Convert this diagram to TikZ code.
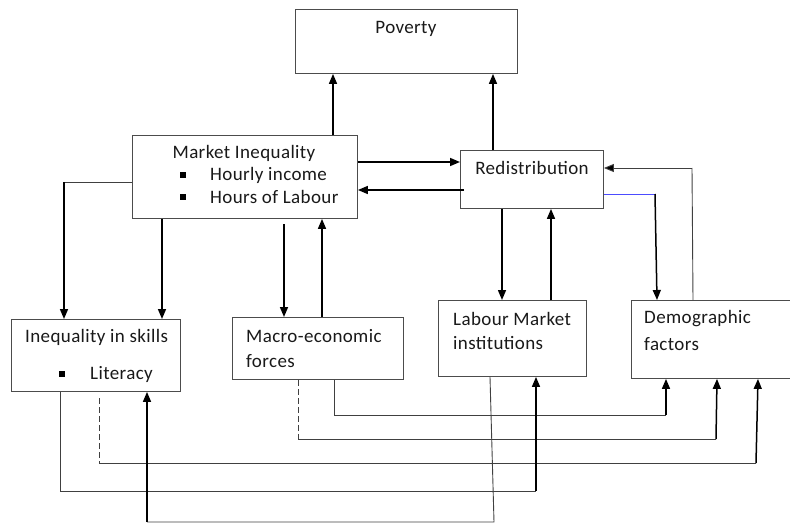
\documentclass[tikz,border=0pt]{standalone}
\usepackage{fontspec}
\setmainfont[LetterSpace=2]{Carlito}
\usetikzlibrary{arrows.meta}
\begin{document}
\begin{tikzpicture}[x=1pt,y=-1pt,
  box/.style={draw=black!70,line width=0.9pt,inner sep=0pt,anchor=north west},
  lbl/.style={inner sep=0pt,font=\fontsize{19}{22}\selectfont,text=black!90},
  lblw/.style={lbl,anchor=west},
  bul/.style={inner sep=0pt,fill=black,minimum size=5.5pt},
  arr/.style={line width=1.5pt,-{Triangle[length=10pt,width=8pt]}},
  thin/.style={draw=black!75,line width=0.9pt},
  thinarr/.style={draw=black!75,line width=0.9pt,-{Triangle[length=10pt,width=8pt,fill=black]}}]
\useasboundingbox (0,0) rectangle (790,527);

% boxes
\node[box,minimum width=222pt,minimum height=64pt] (pov) at (295,9) {};
\node[box,minimum width=225pt,minimum height=83pt] (mi) at (132,135) {};
\node[box,minimum width=143pt,minimum height=58pt] (red) at (460,150) {};
\node[box,minimum width=169pt,minimum height=72pt] (ineq) at (11,319) {};
\node[box,minimum width=171pt,minimum height=62pt] (macro) at (232,317) {};
\node[box,minimum width=148pt,minimum height=76pt] (lmi) at (438,300) {};
\node[box,minimum width=170pt,minimum height=78pt] (demo) at (631,300) {};

% labels
\node[lbl] (tpov) at (406,29) {Poverty};
\node[lbl] (tmi) at (244,153) {Market Inequality};
\node[bul] (b1) at (183,175) {};
\node[bul] (b2) at (183,197) {};
\node[lblw] (tmi1) at (210,175) {Hourly income};
\node[lblw] (tmi2) at (210,197) {Hours of Labour};
\node[lbl] (tred) at (532,168) {Redistribution};
\node[lblw] (tin) at (25,337) {Inequality in skills};
\node[bul] (b3) at (62,374) {};
\node[lblw] (tin1) at (90,374) {Literacy};
\node[lblw] (tma1) at (246,336) {Macro-economic};
\node[lblw] (tma2) at (246,361) {forces};
\node[lblw] (tlm1) at (453,319) {Labour Market};
\node[lblw] (tlm2) at (453,343) {institutions};
\node[lblw] (tde1) at (644,319) {Demographic};
\node[lblw] (tde2) at (644,344) {factors};

% upward links to Poverty
\draw[arr] (mi.north -| 333,0) -- (pov.south -| 333,0);
\draw[arr] (red.north -| 493,0) -- (pov.south -| 493,0);

% Market Inequality <-> Redistribution
\draw[arr] (mi.east |- 0,162) -- (red.west |- 0,162);
\draw[arr] (464,190) -- (mi.east |- 0,190);

% Market Inequality -> Inequality in skills
\draw[thin] (mi.west |- 0,182) -- (64,182);
\draw[arr] (64,182) -- (ineq.north -| 64,0);
\draw[arr] (mi.south -| 162,0) -- (ineq.north -| 162,0);

% Market Inequality <-> Macro-economic forces
\draw[arr] (284,224) -- (macro.north -| 284,0);
\draw[arr] (macro.north -| 322,0) -- (mi.south -| 322,0);

% Redistribution <-> Labour Market institutions
\draw[arr] (red.south -| 502,0) -- (lmi.north -| 502,0);
\draw[arr] (lmi.north -| 551,0) -- (red.south -| 551,0);

% Redistribution <-> Demographic factors
\draw[draw=blue!70!white,line width=0.7pt] (red.east |- 0,194) -- (655,194);
\draw[arr] (655,194) -- (demo.north -| 657,0);
\draw[thin] (demo.north -| 693,0) -- (692,168);
\draw[thinarr] (692,168) -- (red.east |- 0,168);

% lower feedback lines
\draw[thin] (macro.south -| 334,0) -- (334,415) -- (666,415);
\draw[arr] (666,415) -- (demo.south -| 666,0);
\draw[thin,dash pattern=on 6pt off 3pt] (macro.south -| 298,0) -- (298,439);
\draw[thin] (298,439) -- (716,439);
\draw[arr] (716,439) -- (demo.south -| 717,0);
\draw[thin,dash pattern=on 6pt off 3pt] (99,398) -- (99,463);
\draw[thin] (99,463) -- (756,463);
\draw[arr] (756,463) -- (demo.south -| 758,0);
\draw[thin] (ineq.south -| 60,0) -- (60,491) -- (536,491);
\draw[arr] (536,491) -- (lmi.south -| 536,0);
\draw[thin] (lmi.south -| 490,0) -- (494,522) -- (147,522);
\draw[arr] (147,522) -- (ineq.south -| 147,0);
\end{tikzpicture}
\end{document}
